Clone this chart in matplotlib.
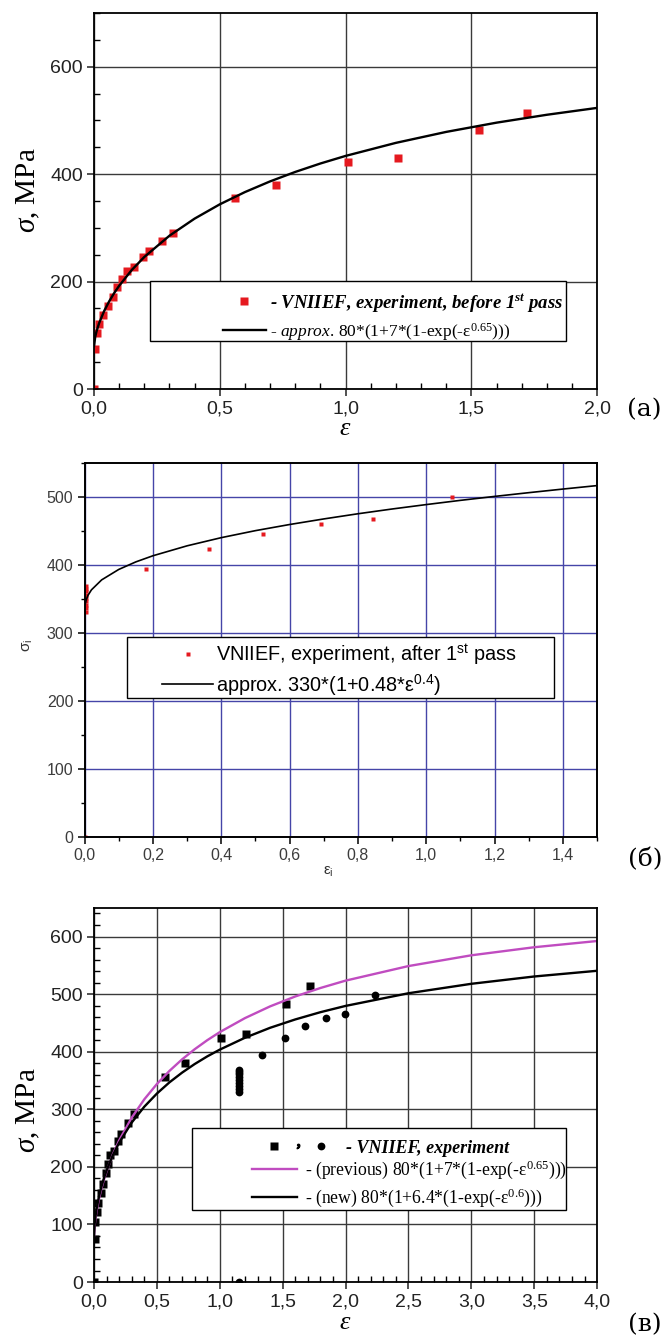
import matplotlib
matplotlib.use("Agg")
import matplotlib.pyplot as plt
from matplotlib.patches import Rectangle
from matplotlib.lines import Line2D
from matplotlib.legend_handler import HandlerTuple
from matplotlib.ticker import MultipleLocator, FuncFormatter

plt.rcParams['font.family'] = 'Liberation Sans'
plt.rcParams['mathtext.fontset'] = 'custom'
plt.rcParams['mathtext.rm'] = 'Liberation Serif'
plt.rcParams['mathtext.it'] = 'Liberation Serif:italic'
plt.rcParams['mathtext.bf'] = 'Liberation Serif:bold'
plt.rcParams['mathtext.tt'] = 'Liberation Serif:bold:italic'
plt.rcParams['mathtext.sf'] = 'Liberation Sans'

# --- (а) experiment before 1st pass + approximation
eps_a = [0.0, 0.004, 0.01, 0.02, 0.035, 0.055, 0.075, 0.092, 0.113, 0.131,
         0.16, 0.193, 0.218, 0.272, 0.315, 0.562, 0.725, 1.01, 1.21, 1.53, 1.72]
sig_a = [0, 74, 105, 122, 137, 154, 171, 190, 205, 220,
         227, 245, 257, 276, 291, 356, 380, 423, 431, 482, 514]
fit_a_eps = [0, 0.005, 0.01, 0.02, 0.04, 0.06, 0.08, 0.1, 0.15, 0.2, 0.3, 0.4,
             0.5, 0.6, 0.7, 0.8, 0.9, 1.0, 1.2, 1.4, 1.6, 1.8, 2.0]
fit_a_sig = [80, 97.6, 107.4, 122.3, 145.0, 163.1, 178.6, 192.3, 221.6, 245.9,
             285.5, 317.3, 343.9, 366.7, 386.6, 404.2, 419.9, 434.0, 458.3,
             478.7, 495.9, 510.6, 523.4]

# --- (б) experiment after 1st pass + approximation
eps_b = [0.0, 0.004, 0.004, 0.004, 0.004, 0.004, 0.004, 0.004, 0.004, 0.004,
         0.179, 0.365, 0.523, 0.693, 0.844, 1.076]
sig_b = [0, 330, 336, 341, 346, 351, 356, 361, 365, 369,
         394, 423, 445, 460, 467, 499]
fit_b_eps = [0, 0.001, 0.005, 0.01, 0.02, 0.05, 0.1, 0.15, 0.2, 0.3, 0.4, 0.5,
             0.6, 0.7, 0.8, 0.9, 1.0, 1.1, 1.2, 1.3, 1.4, 1.5]
fit_b_sig = [330, 340, 349, 355.1, 363.1, 377.8, 393.1, 404.2, 413.2, 427.8,
             439.8, 450.1, 459.1, 467.3, 474.9, 481.9, 488.4, 494.6, 500.4,
             505.9, 511.2, 516.3]

# --- (в) both passes, previous and new approximation
eps_c_circ = [1.155, 1.155, 1.155, 1.155, 1.155, 1.155, 1.155, 1.155, 1.155,
              1.155, 1.337, 1.52, 1.678, 1.848, 1.998, 2.232]
sig_c_circ = [0, 330, 336, 341, 346, 351, 356, 361, 365, 369,
              394, 423, 444, 459, 465, 499]
prev_eps = [0, 0.005, 0.01, 0.02, 0.04, 0.06, 0.08, 0.1, 0.15, 0.2, 0.3, 0.4,
            0.5, 0.6, 0.7, 0.8, 0.9, 1.0, 1.2, 1.4, 1.6, 1.8, 2.0, 2.5, 3.0,
            3.5, 4.0]
prev_sig = [80, 97.6, 107.4, 122.3, 145.0, 163.1, 178.6, 192.3, 221.6, 245.9,
            285.5, 317.3, 343.9, 366.7, 386.6, 404.2, 419.9, 434.0, 458.3,
            478.7, 495.9, 510.6, 523.4, 548.7, 567.4, 581.4, 592.2]
new_eps = prev_eps
new_sig = [80, 100.9, 111.3, 126.7, 149.1, 166.4, 181.0, 193.7, 220.3, 242.1,
           277.0, 304.5, 327.3, 346.8, 363.6, 378.5, 391.8, 403.6, 424.2,
           441.5, 456.0, 468.6, 479.5, 501.5, 517.9, 530.6, 540.5]

red = '#e5191f'
magenta = '#c04cc0'
comma = FuncFormatter(lambda v, p: f"{v:.1f}".replace('.', ','))
serif = 'Liberation Serif'

fig = plt.figure(figsize=(6.62, 13.43), dpi=100)


def frame(ax, lw=1.3):
    for s in ax.spines.values():
        s.set_linewidth(lw)
        s.set_color('black')
    ax.set_axisbelow(True)


# ================= (а)
ax = fig.add_axes([0.142, 0.7103, 0.760, 0.280])
frame(ax)
pa, = ax.plot(eps_a, sig_a, 's', color=red, ms=6.2, mec='none',
              label=r"- VNIIEF, experiment, before 1$^{\mathtt{st}}$ pass")
fa, = ax.plot(fit_a_eps, fit_a_sig, '-', color='black', lw=1.7,
              label=r"- $\mathit{approx}$. 80*(1+7*(1-exp(-ε$^{0.65}$)))")
ax.set_xlim(0, 2.0)
ax.set_ylim(0, 700)
ax.xaxis.set_major_locator(MultipleLocator(0.5))
ax.xaxis.set_minor_locator(MultipleLocator(0.1))
ax.yaxis.set_major_locator(MultipleLocator(200))
ax.yaxis.set_minor_locator(MultipleLocator(50))
ax.xaxis.set_major_formatter(comma)
ax.grid(True, which='major', color='#3a3a3a', lw=1.0)
ax.tick_params(which='major', direction='out', length=5, width=1.1,
               labelsize=14, pad=3, colors='#222222')
ax.tick_params(which='minor', direction='in', length=4, width=1.0)
ax.set_ylabel(r"$\sigma$, MPa", fontsize=21, family=serif, va='center')
ax.yaxis.set_label_coords(-0.131, 0.53)
ax.set_xlabel(r"$\varepsilon$", fontsize=19, va='center')
ax.xaxis.set_label_coords(0.5, -0.103)
ax.add_patch(Rectangle((0.111, 0.128), 0.827, 0.159, transform=ax.transAxes,
                       fc='white', ec='black', lw=1.0, zorder=3))
leg = ax.legend(handles=[pa, fa], loc='center left', bbox_to_anchor=(0.256, 0.19),
                frameon=False, borderpad=0, borderaxespad=0, handlelength=2.3,
                handletextpad=0.2, labelspacing=0.4,
                prop={'family': serif, 'size': 13.5})
leg.set_zorder(4)
leg.get_texts()[0].set_fontweight('bold')
leg.get_texts()[0].set_fontstyle('italic')
leg.get_texts()[1].set_fontsize(12.5)
fig.text(0.973, 1 - 410 / 1343, "(а)", fontsize=18, family='DejaVu Serif',
         ha='center', va='center')

# ================= (б)
ax = fig.add_axes([0.1278, 0.3768, 0.774, 0.2787])
frame(ax, 1.4)
pb, = ax.plot(eps_b, sig_b, 's', color=red, ms=3.0, mec='none',
              label=r"VNIIEF, experiment, after 1$^{\mathsf{st}}$ pass")
fb, = ax.plot(fit_b_eps, fit_b_sig, '-', color='black', lw=1.2,
              label=r"approx. 330*(1+0.48*ε$^{\mathsf{0.4}}$)")
ax.set_xlim(0, 1.5)
ax.set_ylim(0, 550)
ax.xaxis.set_major_locator(MultipleLocator(0.2))
ax.xaxis.set_minor_locator(MultipleLocator(0.1))
ax.yaxis.set_major_locator(MultipleLocator(100))
ax.yaxis.set_minor_locator(MultipleLocator(50))
ax.xaxis.set_major_formatter(comma)
ax.grid(True, which='major', color='#4545a8', lw=1.0)
ax.tick_params(which='major', direction='out', length=5, width=1.1,
               labelsize=11.5, pad=3, labelcolor='#3c3c3c')
ax.tick_params(which='minor', direction='out', length=3, width=1.0)
ax.set_ylabel(r"σ$_{\mathsf{i}}$", fontsize=11, va='center', color='#333333')
ax.yaxis.set_label_coords(-0.110, 0.513)
ax.set_xlabel(r"ε$_{\mathsf{i}}$", fontsize=11, va='center', color='#333333')
ax.xaxis.set_label_coords(0.475, -0.094)
ax.add_patch(Rectangle((0.082, 0.371), 0.835, 0.163, transform=ax.transAxes,
                       fc='white', ec='black', lw=1.0, zorder=3))
leg = ax.legend(handles=[pb, fb], loc='center left', bbox_to_anchor=(0.152, 0.446),
                frameon=False, borderpad=0, borderaxespad=0, handlelength=2.55,
                handletextpad=0.15, labelspacing=0.25,
                prop={'family': 'Liberation Sans', 'size': 14.3})
leg.set_zorder(4)
fig.text(0.974, 1 - 860 / 1343, "(б)", fontsize=18, family='DejaVu Serif',
         ha='center', va='center')

# ================= (в)
ax = fig.add_axes([0.142, 0.0454, 0.760, 0.2787])
frame(ax)
sq, = ax.plot(eps_a, sig_a, 's', color='black', ms=5.2, mec='none')
ci, = ax.plot(eps_c_circ, sig_c_circ, 'o', color='black', ms=5.6, mec='none')
fp, = ax.plot(prev_eps, prev_sig, '-', color=magenta, lw=1.7,
              label=r"- (previous) 80*(1+7*(1-exp(-ε$^{0.65}$)))")
fn, = ax.plot(new_eps, new_sig, '-', color='black', lw=1.7,
              label=r"- (new) 80*(1+6.4*(1-exp(-ε$^{0.6}$)))")
ax.set_xlim(0, 4.0)
ax.set_ylim(0, 650)
ax.xaxis.set_major_locator(MultipleLocator(0.5))
ax.xaxis.set_minor_locator(MultipleLocator(0.1))
ax.yaxis.set_major_locator(MultipleLocator(100))
ax.yaxis.set_minor_locator(MultipleLocator(20))
ax.xaxis.set_major_formatter(comma)
ax.grid(True, which='major', color='#3a3a3a', lw=1.0)
ax.tick_params(which='major', direction='out', length=5, width=1.1,
               labelsize=14, pad=3, colors='#222222')
ax.tick_params(which='minor', direction='in', length=4, width=1.0)
ax.set_ylabel(r"$\sigma$, MPa", fontsize=21, family=serif, va='center')
ax.yaxis.set_label_coords(-0.131, 0.46)
ax.set_xlabel(r"$\varepsilon$", fontsize=19, va='center')
ax.xaxis.set_label_coords(0.5, -0.107)
ax.add_patch(Rectangle((0.194, 0.192), 0.745, 0.219, transform=ax.transAxes,
                       fc='white', ec='black', lw=1.0, zorder=3))
comma_mark = Line2D([], [], ls='none', marker='$,$', color='black', ms=3.2)
leg1 = ax.legend(handles=[(sq, comma_mark, ci)], labels=["- VNIIEF, experiment"],
                 handler_map={tuple: HandlerTuple(ndivide=None, pad=0)},
                 loc='center left', bbox_to_anchor=(0.335, 0.358),
                 frameon=False, borderpad=0, borderaxespad=0, handlelength=3.9,
                 handletextpad=0.7,
                 prop={'family': serif, 'size': 13, 'weight': 'bold',
                       'style': 'italic'})
leg1.set_zorder(4)
ax.add_artist(leg1)
leg2 = ax.legend(handles=[fp, fn], loc='center left', bbox_to_anchor=(0.315, 0.262),
                 frameon=False, borderpad=0, borderaxespad=0, handlelength=2.5,
                 handletextpad=0.45, labelspacing=0.3,
                 prop={'family': serif, 'size': 12.7})
leg2.set_zorder(4)
fig.text(0.974, 1 - 1325 / 1343, "(в)", fontsize=18, family='DejaVu Serif',
         ha='center', va='center')

fig.savefig("out.png", dpi=100)
